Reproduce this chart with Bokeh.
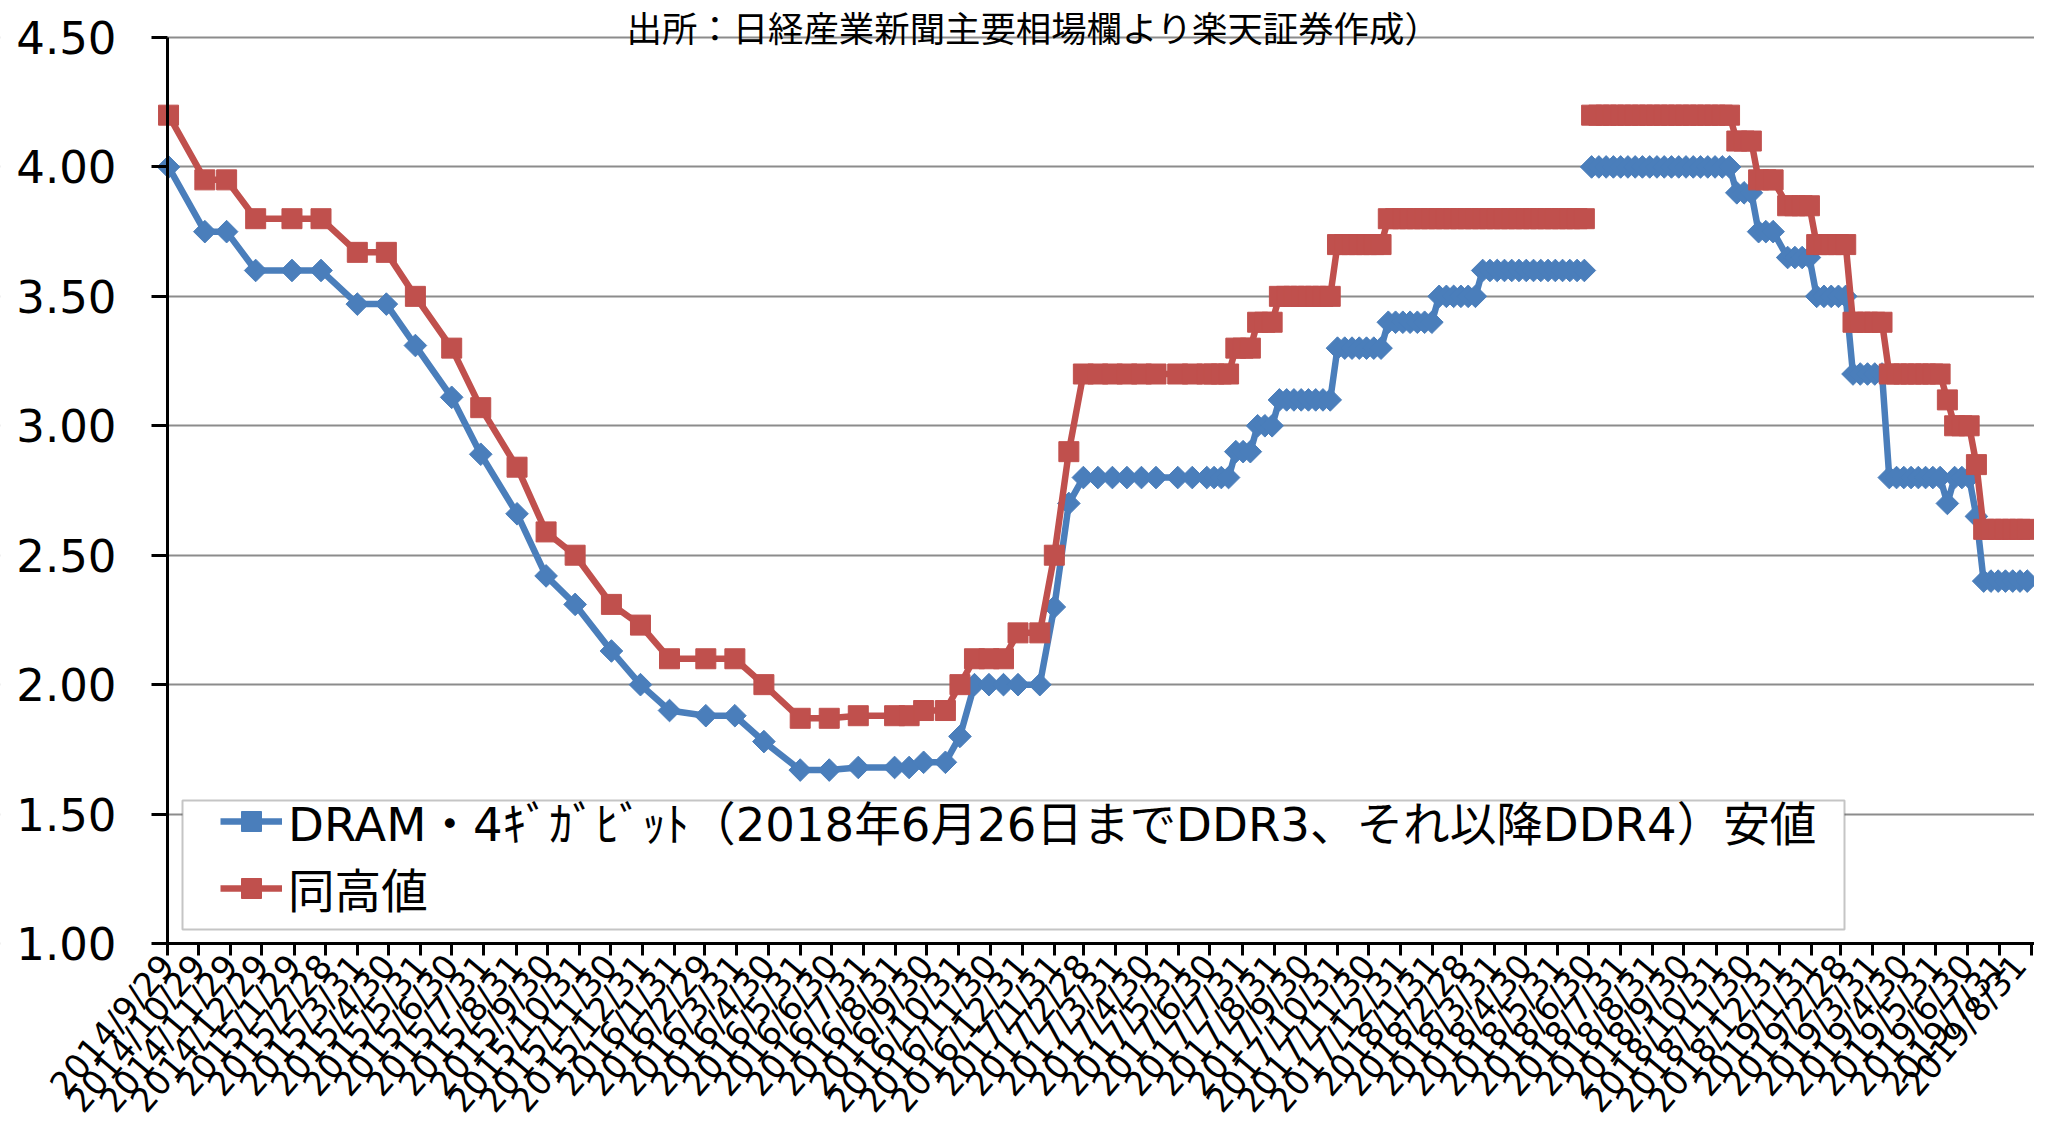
import numpy as np
import pandas as pd
from math import radians, pi
from bokeh.plotting import figure
from bokeh.models import (ColumnDataSource, Range1d, FixedTicker, NumeralTickFormatter,
                          Label, BoxAnnotation)
from bokeh.embed import file_html
from bokeh.resources import INLINE

BLUE = "#4A7EBB"
RED = "#C0504D"
FONT = "Noto Sans CJK JP"
LATIN_FONT = "DejaVu Sans"
LEGEND_FONT = "'DejaVu Sans', 'Noto Sans CJK JP'"

LABEL_LOW = "DRAM・4ｷﾞｶﾞﾋﾞｯﾄ（2018年6月26日までDDR3、それ以降DDR4）安値"
LABEL_HIGH = "同高値"
SOURCE_NOTE = "出所：日経産業新聞主要相場欄より楽天証券作成）"

dates = [
    "2014/9/30", "2014/11/4", "2014/11/25", "2014/12/23", "2015/1/27", "2015/2/24", "2015/3/31", "2015/4/28", "2015/5/26", "2015/6/30",
    "2015/7/28", "2015/9/1", "2015/9/29", "2015/10/27", "2015/12/1", "2015/12/29", "2016/1/26", "2016/3/1", "2016/3/29", "2016/4/26",
    "2016/5/31", "2016/6/28", "2016/7/26", "2016/8/30", "2016/9/13", "2016/9/27", "2016/10/18", "2016/11/1", "2016/11/15", "2016/11/29",
    "2016/12/13", "2016/12/27", "2017/1/17", "2017/1/31", "2017/2/14", "2017/2/28", "2017/3/14", "2017/3/28", "2017/4/11", "2017/4/25",
    "2017/5/9", "2017/5/30", "2017/6/13", "2017/6/27", "2017/7/4", "2017/7/11", "2017/7/18", "2017/7/25", "2017/8/1", "2017/8/8",
    "2017/8/15", "2017/8/22", "2017/8/29", "2017/9/5", "2017/9/12", "2017/9/19", "2017/9/26", "2017/10/3", "2017/10/10", "2017/10/17",
    "2017/10/24", "2017/10/31", "2017/11/7", "2017/11/14", "2017/11/21", "2017/11/28", "2017/12/5", "2017/12/12", "2017/12/19", "2017/12/26",
    "2018/1/2", "2018/1/9", "2018/1/16", "2018/1/23", "2018/1/30", "2018/2/6", "2018/2/13", "2018/2/20", "2018/2/27", "2018/3/6",
    "2018/3/13", "2018/3/20", "2018/3/27", "2018/4/3", "2018/4/10", "2018/4/17", "2018/4/24", "2018/5/1", "2018/5/8", "2018/5/15",
    "2018/5/22", "2018/5/29", "2018/6/5", "2018/6/12", "2018/6/19", "2018/6/26", "2018/6/29", "2018/7/3", "2018/7/10", "2018/7/17",
    "2018/7/24", "2018/7/31", "2018/8/7", "2018/8/14", "2018/8/21", "2018/8/28", "2018/9/4", "2018/9/11", "2018/9/18", "2018/9/25",
    "2018/10/2", "2018/10/9", "2018/10/16", "2018/10/23", "2018/10/30", "2018/11/6", "2018/11/13", "2018/11/20", "2018/11/27", "2018/12/4",
    "2018/12/11", "2018/12/18", "2018/12/25", "2019/1/8", "2019/1/15", "2019/1/22", "2019/1/29", "2019/2/5", "2019/2/12", "2019/2/19",
    "2019/2/26", "2019/3/5", "2019/3/12", "2019/3/19", "2019/3/26", "2019/4/2", "2019/4/9", "2019/4/16", "2019/4/23", "2019/4/30",
    "2019/5/7", "2019/5/14", "2019/5/21", "2019/5/28", "2019/6/4", "2019/6/11", "2019/6/18", "2019/6/25", "2019/7/2", "2019/7/9",
    "2019/7/16", "2019/7/23", "2019/7/30", "2019/8/6", "2019/8/13", "2019/8/20", "2019/8/27",
]

low = [
    4.00, 3.75, 3.75, 3.60, 3.60, 3.60, 3.47, 3.47, 3.31, 3.11,
    2.89, 2.66, 2.42, 2.31, 2.13, 2.00, 1.90, 1.88, 1.88, 1.78,
    1.67, 1.67, 1.68, 1.68, 1.68, 1.70, 1.70, 1.80, 2.00, 2.00,
    2.00, 2.00, 2.00, 2.30, 2.70, 2.80, 2.80, 2.80, 2.80, 2.80,
    2.80, 2.80, 2.80, 2.80, 2.80, 2.80, 2.80, 2.90, 2.90, 2.90,
    3.00, 3.00, 3.00, 3.10, 3.10, 3.10, 3.10, 3.10, 3.10, 3.10,
    3.10, 3.30, 3.30, 3.30, 3.30, 3.30, 3.30, 3.30, 3.40, 3.40,
    3.40, 3.40, 3.40, 3.40, 3.40, 3.50, 3.50, 3.50, 3.50, 3.50,
    3.50, 3.60, 3.60, 3.60, 3.60, 3.60, 3.60, 3.60, 3.60, 3.60,
    3.60, 3.60, 3.60, 3.60, 3.60, 3.60, None, 4.00, 4.00, 4.00,
    4.00, 4.00, 4.00, 4.00, 4.00, 4.00, 4.00, 4.00, 4.00, 4.00,
    4.00, 4.00, 4.00, 4.00, 4.00, 4.00, 4.00, 3.90, 3.90, 3.90,
    3.75, 3.75, 3.75, 3.65, 3.65, 3.65, 3.65, 3.50, 3.50, 3.50,
    3.50, 3.50, 3.20, 3.20, 3.20, 3.20, 3.20, 2.80, 2.80, 2.80,
    2.80, 2.80, 2.80, 2.80, 2.80, 2.70, 2.80, 2.80, 2.80, 2.65,
    2.40, 2.40, 2.40, 2.40, 2.40, 2.40, 2.40,
]

high = [
    4.20, 3.95, 3.95, 3.80, 3.80, 3.80, 3.67, 3.67, 3.50, 3.30,
    3.07, 2.84, 2.59, 2.50, 2.31, 2.23, 2.10, 2.10, 2.10, 2.00,
    1.87, 1.87, 1.88, 1.88, 1.88, 1.90, 1.90, 2.00, 2.10, 2.10,
    2.10, 2.20, 2.20, 2.50, 2.90, 3.20, 3.20, 3.20, 3.20, 3.20,
    3.20, 3.20, 3.20, 3.20, 3.20, 3.20, 3.20, 3.30, 3.30, 3.30,
    3.40, 3.40, 3.40, 3.50, 3.50, 3.50, 3.50, 3.50, 3.50, 3.50,
    3.50, 3.70, 3.70, 3.70, 3.70, 3.70, 3.70, 3.70, 3.80, 3.80,
    3.80, 3.80, 3.80, 3.80, 3.80, 3.80, 3.80, 3.80, 3.80, 3.80,
    3.80, 3.80, 3.80, 3.80, 3.80, 3.80, 3.80, 3.80, 3.80, 3.80,
    3.80, 3.80, 3.80, 3.80, 3.80, 3.80, None, 4.20, 4.20, 4.20,
    4.20, 4.20, 4.20, 4.20, 4.20, 4.20, 4.20, 4.20, 4.20, 4.20,
    4.20, 4.20, 4.20, 4.20, 4.20, 4.20, 4.20, 4.10, 4.10, 4.10,
    3.95, 3.95, 3.95, 3.85, 3.85, 3.85, 3.85, 3.70, 3.70, 3.70,
    3.70, 3.70, 3.40, 3.40, 3.40, 3.40, 3.40, 3.20, 3.20, 3.20,
    3.20, 3.20, 3.20, 3.20, 3.20, 3.10, 3.00, 3.00, 3.00, 2.85,
    2.60, 2.60, 2.60, 2.60, 2.60, 2.60, 2.60,
]

tick_labels = [
    "2014/9/29", "2014/10/29", "2014/11/29", "2014/12/29", "2015/1/29", "2015/2/28", "2015/3/31", "2015/4/30",
    "2015/5/31", "2015/6/30", "2015/7/31", "2015/8/31", "2015/9/30", "2015/10/31", "2015/11/30", "2015/12/31",
    "2016/1/31", "2016/2/29", "2016/3/31", "2016/4/30", "2016/5/31", "2016/6/30", "2016/7/31", "2016/8/31",
    "2016/9/30", "2016/10/31", "2016/11/30", "2016/12/31", "2017/1/31", "2017/2/28", "2017/3/31", "2017/4/30",
    "2017/5/31", "2017/6/30", "2017/7/31", "2017/8/31", "2017/9/30", "2017/10/31", "2017/11/30", "2017/12/31",
    "2018/1/31", "2018/2/28", "2018/3/31", "2018/4/30", "2018/5/31", "2018/6/30", "2018/7/31", "2018/8/31",
    "2018/9/30", "2018/10/31", "2018/11/30", "2018/12/31", "2019/1/31", "2019/2/28", "2019/3/31", "2019/4/30",
    "2019/5/31", "2019/6/30", "2019/7/31", "2019/8/31",
]

y_ticks = [1.00, 1.50, 2.00, 2.50, 3.00, 3.50, 4.00, 4.50]

# ---------------------------------------------------------------------------
W, H = 2034, 1122
LEFT, TOP, BOTTOM = 167, 37, 943          # x of y-axis, y of 4.50, y of 1.00 (pixels)
DAYS_SHOWN = 1800                         # days from first tick to right edge

px_per_unit = (BOTTOM - TOP) / (y_ticks[-1] - y_ticks[0])
y_hi = y_ticks[-1] + TOP / px_per_unit
y_lo = y_ticks[0] - (H - BOTTOM) / px_per_unit
px_per_day = (W - LEFT) / DAYS_SHOWN

date_vals = pd.to_datetime(dates, format="%Y/%m/%d")
tick_dates = pd.to_datetime(tick_labels, format="%Y/%m/%d")
tick_ms = [float(t.value // 10**6) for t in tick_dates]

src = ColumnDataSource(dict(
    date=date_vals,
    low=np.array(low, dtype=float),
    high=np.array(high, dtype=float),
))

x0 = tick_dates[0]
x_start_ts = x0 - pd.Timedelta(days=LEFT / px_per_day)
x_start = x_start_ts.to_pydatetime()
x_start_ms = float(x_start_ts.value // 10**6)
x_end_ts = x0 + pd.Timedelta(days=DAYS_SHOWN)
x_end = x_end_ts.to_pydatetime()
x_end_ms = float(x_end_ts.value // 10**6)
day_ms = 86400000.0

p = figure(width=W, height=H, x_axis_type="datetime",
           x_range=Range1d(x_start, x_end), y_range=Range1d(y_lo, y_hi),
           output_backend="svg", toolbar_location=None,
           min_border_left=0, min_border_right=0,
           min_border_top=0, min_border_bottom=0)
p.background_fill_color = "white"
p.border_fill_color = "white"
p.outline_line_color = None

p.xgrid.visible = False
p.ygrid.grid_line_color = "#8C8C8C"
p.ygrid.grid_line_width = 2

# keep the gridlines to the right of the value axis
p.add_layout(BoxAnnotation(left=x_start_ms - 60 * day_ms, right=tick_ms[0],
                           bottom=y_lo - 1.0, top=y_hi + 1.0,
                           fill_color="white", fill_alpha=1.0,
                           line_color=None, level="underlay"))

# y axis at the first date
ya = p.yaxis[0]
ya.fixed_location = tick_ms[0]
ya.ticker = FixedTicker(ticks=y_ticks)
ya.bounds = (y_ticks[0], y_ticks[-1])
ya.formatter = NumeralTickFormatter(format="0.00")
ya.major_label_text_font = LATIN_FONT
ya.major_label_text_font_size = "45px"
ya.major_label_text_color = "black"
ya.major_label_standoff = 35
ya.major_tick_out = 16
ya.major_tick_in = 0
ya.minor_tick_out = 0
ya.minor_tick_in = 0
ya.axis_line_width = 3
ya.axis_line_color = "black"
ya.major_tick_line_width = 3
ya.major_tick_line_color = "black"

# x axis at y = 1.00
xa = p.xaxis[0]
xa.fixed_location = y_ticks[0]
xa.ticker = FixedTicker(ticks=tick_ms)
xa.bounds = (tick_ms[0], x_end_ms)
xa.major_label_overrides = {ms: lab for ms, lab in zip(tick_ms, tick_labels)}
xa.major_label_orientation = radians(50)
xa.major_label_text_font = LATIN_FONT
xa.major_label_text_font_size = "33.5px"
xa.major_label_text_color = "black"
xa.major_label_standoff = 4
xa.major_tick_out = 12
xa.major_tick_in = 0
xa.minor_tick_out = 0
xa.minor_tick_in = 0
xa.axis_line_width = 3
xa.axis_line_color = "black"
xa.major_tick_line_width = 3
xa.major_tick_line_color = "black"

# legend frame (white box over the gridlines)
p.add_layout(BoxAnnotation(left=182, right=1844, bottom=H - 929, top=H - 800,
                           left_units="screen", right_units="screen",
                           bottom_units="screen", top_units="screen",
                           fill_color="white", fill_alpha=1.0,
                           line_color="#404040", line_width=2, level="underlay"))

# series
p.line("date", "low", source=src, line_color=BLUE, line_width=6.5, legend_label=LABEL_LOW)
p.scatter("date", "low", source=src, marker="square", angle=pi / 4, size=16,
          fill_color=BLUE, line_color=BLUE, legend_label=LABEL_LOW)
p.line("date", "high", source=src, line_color=RED, line_width=6.5, legend_label=LABEL_HIGH)
p.scatter("date", "high", source=src, marker="square", size=20,
          fill_color=RED, line_color=RED, legend_label=LABEL_HIGH)

# source note at the very top
p.add_layout(Label(x=1033, y=H, x_units="screen", y_units="screen", text=SOURCE_NOTE,
                   text_align="center", text_baseline="top",
                   text_font=FONT, text_font_size="35.4px", text_color="black"))

# legend entries (frame drawn by the box above)
p.legend.location = (220, H - 921)
p.legend.label_text_font = LEGEND_FONT
p.legend.label_text_font_size = "46.6px"
p.legend.label_text_color = "black"
p.legend.glyph_width = 62
p.legend.glyph_height = 50
p.legend.label_standoff = 6
p.legend.padding = 0
p.legend.spacing = 0
p.legend.margin = 0
p.legend.border_line_color = None
p.legend.background_fill_alpha = 0.0

open("out.html", "w").write(file_html(p, INLINE))
